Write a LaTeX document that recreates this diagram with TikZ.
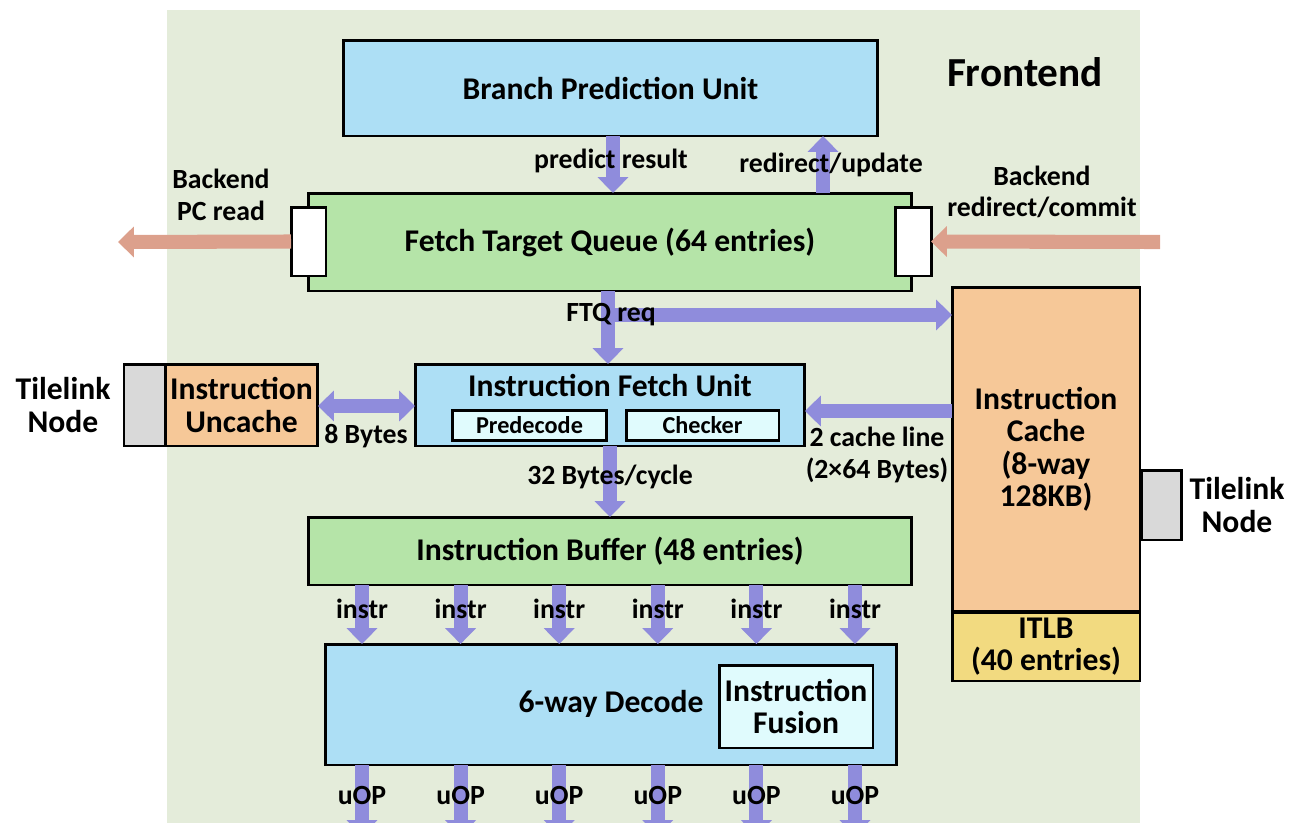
\documentclass[tikz,border=0pt]{standalone}
\usepackage{fontspec}
\setmainfont{Carlito}
\usetikzlibrary{arrows.meta}
\definecolor{fondfront}{RGB}{228,236,218}
\definecolor{bleu}{RGB}{173,223,245}
\definecolor{vert}{RGB}{181,228,168}
\definecolor{peche}{RGB}{246,200,152}
\definecolor{jaune}{RGB}{242,218,128}
\definecolor{cyanpale}{RGB}{224,251,253}
\definecolor{gris}{RGB}{217,217,217}
\definecolor{violet}{RGB}{143,140,220}
\definecolor{saumon}{RGB}{220,160,140}
\newcommand{\grandf}{\fontsize{18}{18.5}\selectfont\bfseries}
\newcommand{\petitf}{\fontsize{15.8}{18}\selectfont\bfseries}

\begin{document}
\begin{tikzpicture}[x=0.02cm,y=-0.02cm,
    bloc/.style={draw,line width=1.7pt,inner sep=0pt,outer sep=0pt,font=\grandf,align=center},
    txt/.style={font=\petitf,align=center,inner sep=0pt},
    flux/.style={draw=violet,line width=8pt,-{Triangle[width=17pt,length=9pt]}},
    flux2/.style={draw=violet,line width=8pt,{Triangle[width=17pt,length=9pt]}-{Triangle[width=17pt,length=9pt]}},
    retour/.style={draw=saumon,line width=8pt,-{Triangle[width=17pt,length=9pt]}}]
        \useasboundingbox (0,0) rectangle (1291,822);
        \fill[fondfront] (167,10) rectangle (1140,840);
        \node[font=\fontsize{23.5}{26}\selectfont\bfseries] (titre) at (1025,72) {Frontend};
        % predicteur et file
        \node[bloc,fill=bleu,minimum width=10.7cm,minimum height=1.92cm] (bpu) at (610.5,88) {Branch Prediction Unit};
        \node[bloc,fill=vert,minimum width=12.08cm,minimum height=1.96cm] (ftq) at (610,242) {Fetch Target Queue (64 entries)};
        \node[bloc,fill=white,minimum width=0.7cm,minimum height=1.38cm] (pcport) at (308.5,241.5) {};
        \node[bloc,fill=white,minimum width=0.72cm,minimum height=1.38cm] (redport) at (913,241.5) {};
        \draw[flux] (bpu.south -| 613,0) -- (ftq.north -| 613,0);
        \draw[flux] (ftq.north -| 823,0) -- (bpu.south -| 823,0);
        \coordinate (pcout) at (118,242);
        \coordinate (redin) at (1160,242);
        \draw[retour] (pcport.west) -- (pcout);
        \draw[retour] (redin) -- (redport.east);
        \node[txt] (predres) at (611,161) {predict result};
        \node[txt] (redupd) at (831,165) {redirect/update};
        \node[txt] (pcread) at (221,195) {Backend\\PC read};
        \node[txt] (redcom) at (1042,192) {Backend\\redirect/commit};
        % cache
        \node[bloc,fill=peche,minimum width=3.76cm,minimum height=6.5cm] (icache) at (1046,449.5) {Instruction\\Cache\\(8-way\\128KB)};
        \node[bloc,fill=jaune,minimum width=3.76cm,minimum height=1.38cm] (itlb) at (1046,646.5) {ITLB\\(40 entries)};
        \node[bloc,fill=gris,minimum width=0.8cm,minimum height=1.4cm] (tlcache) at (1161,505) {};
        \node[txt,font=\grandf] (tlcachetxt) at (1237,505) {Tilelink\\Node};
        % fetch
        \node[bloc,fill=bleu,minimum width=7.8cm,minimum height=1.64cm] (ifu) at (610,405) {};
        \node[font=\grandf,inner sep=0pt] (ifutxt) at (610,385) {Instruction Fetch Unit};
        \node[bloc,fill=cyanpale,minimum width=3.1cm,minimum height=0.6cm,font=\fontsize{13.8}{16}\selectfont\bfseries] (predec) at (529.5,425) {Predecode};
        \node[bloc,fill=cyanpale,minimum width=3.06cm,minimum height=0.6cm,font=\fontsize{13.8}{16}\selectfont\bfseries] (checker) at (702.5,425) {Checker};
        \node[bloc,fill=peche,minimum width=3.06cm,minimum height=1.64cm] (uncache) at (241.5,405) {Instruction\\Uncache};
        \node[bloc,fill=gris,minimum width=0.82cm,minimum height=1.64cm] (tlunc) at (144.5,405) {};
        \node[txt,font=\grandf] (tlunctxt) at (63,405) {Tilelink\\Node};
        \coordinate (ftqreq) at (613,315);
        \draw[flux] (ftq.south -| 608,0) -- (ifu.north -| 608,0);
        \draw[flux] (ftqreq) -- (icache.west |- ftqreq);
        \draw[flux] (icache.west |- 0,411) -- (ifu.east |- 0,411);
        \draw[flux2] (uncache.east |- 0,406) -- (ifu.west |- 0,406);
        \node[txt] (ftqreqtxt) at (611,315) {FTQ req};
        \node[txt] (octets) at (366,436) {8 Bytes};
        \node[txt] (lignes) at (877,455) {2 cache line\\(2×64 Bytes)};
        % buffer et decode
        \node[bloc,fill=vert,minimum width=12.08cm,minimum height=1.36cm] (ibuf) at (610,551) {Instruction Buffer (48 entries)};
        \draw[flux] (ifu.south -| 610,0) -- (ibuf.north -| 610,0);
        \node[txt] (debit) at (610,477) {32 Bytes/cycle};
        \node[bloc,fill=bleu,minimum width=11.44cm,minimum height=2.42cm] (dec) at (611,704.5) {};
        \node[font=\grandf,inner sep=0pt] (dectxt) at (611,704) {6-way Decode};
        \node[bloc,fill=cyanpale,minimum width=3.08cm,minimum height=1.66cm] (fusion) at (796,706.5) {Instruction\\Fusion};
        \foreach \i in {0,...,5} {
          \pgfmathsetmacro{\xx}{362+98.6*\i}
          \draw[flux] (ibuf.south -| \xx,0) -- (dec.north -| \xx,0);
          \node[txt] (instr\i) at (\xx,609) {instr};
          \coordinate (uopout\i) at (\xx,836);
          \draw[flux] (dec.south -| \xx,0) -- (uopout\i);
          \node[txt] (uop\i) at (\xx,795) {uOP};
        }
      \end{tikzpicture}
\end{document}
